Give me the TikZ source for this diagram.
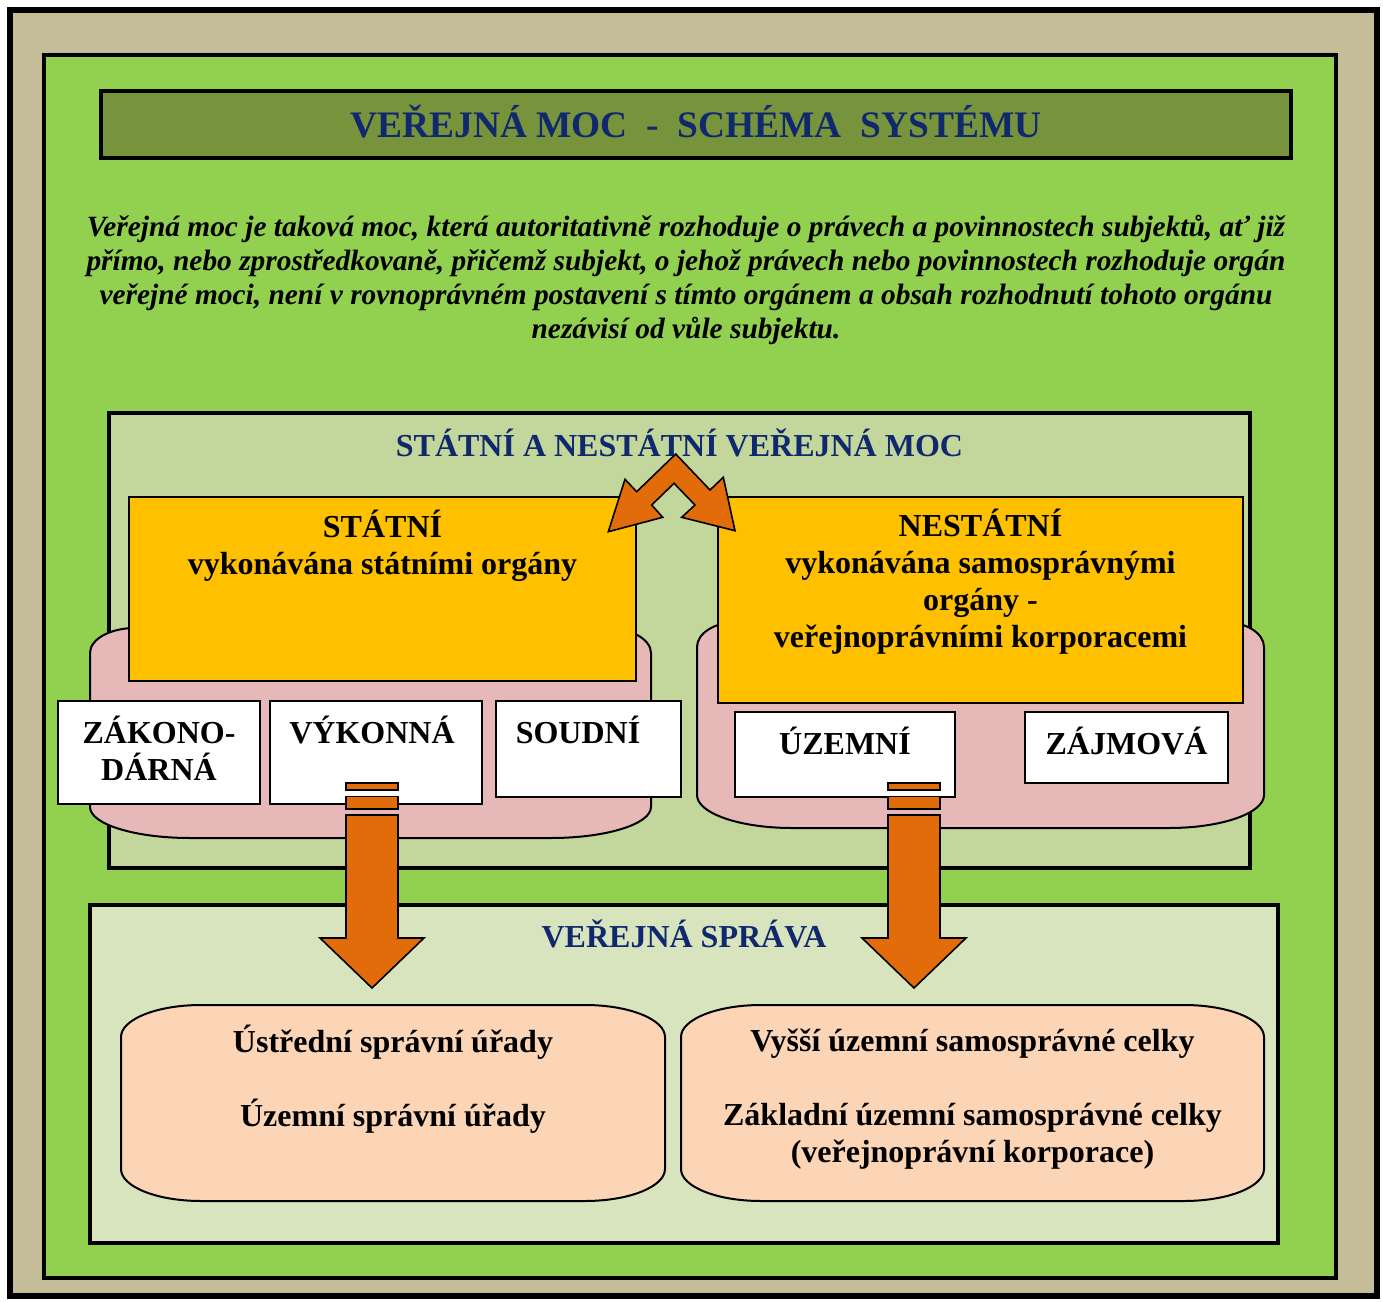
\documentclass[tikz,border=0pt]{standalone}
\usepackage{fontspec}
\setmainfont{Liberation Serif}
\definecolor{tan}{HTML}{C4BD97}
\definecolor{grass}{HTML}{92D050}
\definecolor{olive}{HTML}{77933C}
\definecolor{sage}{HTML}{C3D69B}
\definecolor{rose}{HTML}{E6B9B8}
\definecolor{amber}{HTML}{FFC000}
\definecolor{mint}{HTML}{D7E4BD}
\definecolor{peach}{HTML}{FBD5B5}
\definecolor{rust}{HTML}{E36C0A}
\definecolor{navy}{RGB}{16,40,110}
% rectangle with elliptical corners: [style]{x1}{y1}{x2}{y2}{top rx}{top ry}{bottom rx}{bottom ry}
\newcommand\softbox[9][]{%
  \draw[#1] (#2+#6,#3) -- (#4-#6,#3)
    .. controls (#4-0.448*#6,#3) and (#4,#3+0.448*#7) .. (#4,#3+#7)
    -- (#4,#5-#9)
    .. controls (#4,#5-0.448*#9) and (#4-0.448*#8,#5) .. (#4-#8,#5)
    -- (#2+#8,#5)
    .. controls (#2+0.448*#8,#5) and (#2,#5-0.448*#9) .. (#2,#5-#9)
    -- (#2,#3+#7)
    .. controls (#2,#3+0.448*#7) and (#2+0.448*#6,#3) .. (#2+#6,#3) -- cycle;}
\begin{document}
\begin{tikzpicture}[x=0.5pt,y=-0.5pt,
  heading/.style={text=navy,font=\fontsize{16}{18.5}\selectfont\bfseries},
  boxtext/.style={align=center,font=\fontsize{16}{18.5}\selectfont\bfseries},
  whitebox/.style={draw=black,fill=white,line width=1.1pt},
  blockarrow/.style={draw=black,fill=rust,line width=0.8pt,line join=miter},
  ]
\useasboundingbox (0,0) rectangle (1383,1302);
\fill[white] (0,0) rectangle (1383,1302);

% frames
\draw[line width=3pt,fill=tan] (10,10) rectangle (1377,1296);
\draw[line width=2pt,fill=grass] (44,55) rectangle (1336,1278);

% title bar
\draw[line width=2pt,fill=olive] (101,91) rectangle (1291,158);
\node[text=navy,font=\fontsize{18.7}{22}\selectfont\bfseries] (title) at (696,122)
  {VEŘEJNÁ MOC\ \ -\ \ SCHÉMA\ \ SYSTÉMU};

% definition
\node[align=center,font=\fontsize{14.7}{17}\selectfont\bfseries\itshape] (definition) at (686,280)
  {Veřejná moc je taková moc, která autoritativně rozhoduje o právech a povinnostech subjektů, ať již\\
   přímo, nebo zprostředkovaně, přičemž subjekt, o jehož právech nebo povinnostech rozhoduje orgán\\
   veřejné moci, není v rovnoprávném postavení s tímto orgánem a obsah rozhodnutí tohoto orgánu\\
   nezávisí od vůle subjektu.};

% state and non-state public power
\draw[line width=1.8pt,fill=sage] (109,413) rectangle (1250,868);
\node[heading] (powerhead) at (679.5,443) {STÁTNÍ A NESTÁTNÍ VEŘEJNÁ MOC};

\softbox[line width=1pt,fill=rose]{90}{628}{651}{838}{45}{25}{100}{31}
\softbox[line width=1pt,fill=rose]{697}{622}{1264}{828}{40}{25}{95}{33}

\draw[line width=1pt,fill=amber] (129,497) rectangle (636,681);
\node[boxtext] (state) at (382.5,545.5) {STÁTNÍ\\vykonávána státními orgány};
\draw[line width=1pt,fill=amber] (718,497) rectangle (1243,703);
\node[boxtext] (nonstate) at (980.5,582)
  {NESTÁTNÍ\\vykonávána samosprávnými\\orgány -\\veřejnoprávními korporacemi};

% branches
\draw[whitebox] (58,701) rectangle (260,804);
\node[boxtext] (legis) at (159,748) {ZÁKONO-\\DÁRNÁ};
\draw[whitebox] (270,701) rectangle (482,804);
\node[boxtext] (exec) at (372,730) {VÝKONNÁ};
\draw[whitebox] (496,701) rectangle (681,797);
\node[boxtext] (judic) at (578,730) {SOUDNÍ};
\draw[whitebox] (735,712) rectangle (955,797);
\node[boxtext] (terr) at (845,741) {ÚZEMNÍ};
\draw[whitebox] (1025,712) rectangle (1228,783);
\node[boxtext] (interest) at (1126.5,741) {ZÁJMOVÁ};

% public administration
\draw[line width=1.8pt,fill=mint] (90,905) rectangle (1278,1243);
\node[heading] (adminhead) at (684,934) {VEŘEJNÁ SPRÁVA};

\softbox[line width=1pt,fill=peach]{121}{1005}{665}{1201}{80}{32}{80}{32}
\node[boxtext] (stateadmin) at (393,1079)
  {Ústřední správní úřady\\[18.5pt]Územní správní úřady};
\softbox[line width=1pt,fill=peach]{681}{1005}{1264}{1201}{80}{32}{80}{32}
\node[boxtext] (selfadmin) at (972.5,1099)
  {Vyšší územní samosprávné celky\\[18.5pt]Základní územní samosprávné celky\\(veřejnoprávní korporace)};

% block arrows
\draw[blockarrow] (675.7,454) -- (636.7,491.7) -- (625,479.3) -- (608.3,531.7)
  -- (662.7,517.3) -- (651.7,505) -- (674,483.3) -- (695,505) -- (681.7,517.3)
  -- (735,530.7) -- (723.3,477.3) -- (710,490) -- cycle;

\foreach \cx in {372,914}{
  \draw[blockarrow] (\cx-26,783) rectangle (\cx+26,790);
  \draw[blockarrow] (\cx-26,796.5) rectangle (\cx+26,809);
  \draw[blockarrow] (\cx-26,815) -- (\cx+26,815) -- (\cx+26,938) -- (\cx+52,938)
    -- (\cx,988) -- (\cx-52,938) -- (\cx-26,938) -- cycle;
}
\end{tikzpicture}
\end{document}
